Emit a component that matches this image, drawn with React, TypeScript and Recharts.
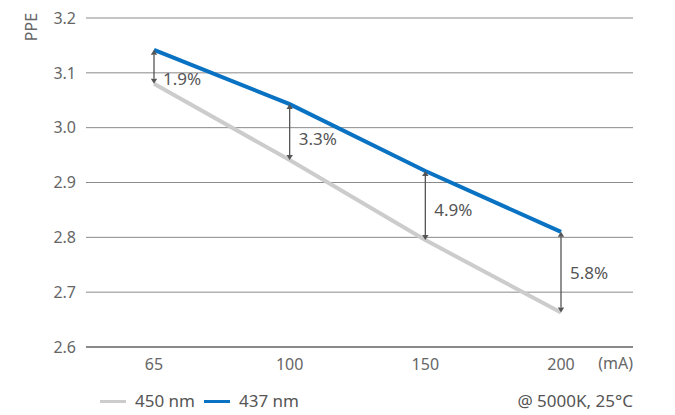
import { LineChart, Line, XAxis, YAxis, CartesianGrid, ReferenceLine } from "recharts";

const currents = ["65", "100", "150", "200"];
const ppe437 = [3.142, 3.043, 2.921, 2.81];
const ppe450 = [3.08, 2.941, 2.795, 2.663];
const gapLabels = ["1.9%", "3.3%", "4.9%", "5.8%"];
const yTicks = [2.6, 2.7, 2.8, 2.9, 3.0, 3.1, 3.2];

const data = currents.map((c, i) => ({ current: c, nm437: ppe437[i], nm450: ppe450[i] }));

const FONT = "'Noto Sans', sans-serif";
const BLUE = "#0a72c2";
const GRAY = "#cccccc";
const ARROW = "#555555";
const TEXT = "#555555";

// label nudges so the text sits clear of the lines
const labelDy = [14, 8, 6, 2];

function GapArrow(props: any, idx: number) {
  const { x1, y1, x2, y2 } = props;
  const x = x1;
  const top = Math.min(y1, y2);
  const bot = Math.max(y1, y2);
  const h = 5;
  const w = 3.2;
  return (
    <g>
      <line x1={x} y1={top + h} x2={x2} y2={bot - h} stroke={ARROW} strokeWidth={1.3} />
      <polygon points={`${x},${top} ${x - w},${top + h} ${x + w},${top + h}`} fill={ARROW} />
      <polygon points={`${x},${bot} ${x - w},${bot - h} ${x + w},${bot - h}`} fill={ARROW} />
      <text
        x={x + 9}
        y={(top + bot) / 2 + labelDy[idx]}
        fill={TEXT}
        fontSize={17}
        fontFamily={FONT}
        dominantBaseline="middle"
      >
        {gapLabels[idx]}
      </text>
    </g>
  );
}

function LegendRow() {
  const item = (color: string, label: string) => (
    <span style={{ display: "flex", alignItems: "center", gap: 9, marginRight: 9 }}>
      <span style={{ display: "inline-block", width: 26, height: 3, background: color }} />
      <span>{label}</span>
    </span>
  );
  return (
    <div
      style={{
        position: "absolute",
        left: 100,
        top: 390,
        display: "flex",
        alignItems: "center",
        fontFamily: FONT,
        fontSize: 17,
        color: TEXT,
        width: 533,
        lineHeight: "22px",
      }}
    >
      {item(GRAY, "450 nm")}
      {item(BLUE, "437 nm")}
      <span style={{ marginLeft: "auto" }}>@ 5000K, 25°C</span>
    </div>
  );
}

export default function App() {
  return (
    <div style={{ position: "absolute", left: 0, top: 0, width: 675, height: 415, background: "#fff" }}>
      <LineChart width={675} height={415} data={data} margin={{ top: 18, right: 42, bottom: 38, left: 0 }}>
        <CartesianGrid vertical={false} stroke="#8a8a8a" strokeWidth={1} />
        <XAxis
          dataKey="current"
          padding={{ left: 68, right: 72 }}
          tickLine={false}
          axisLine={{ stroke: "#8a8a8a", strokeWidth: 2 }}
          tick={{ fill: "#666", fontSize: 16, fontFamily: FONT }}
          tickMargin={6}
          height={30}
          label={(p: any) => {
            const vb = p.viewBox;
            return (
              <text
                x={vb.x + vb.width}
                y={vb.y + 18}
                textAnchor="end"
                fill="#666"
                fontSize={16}
                fontFamily={FONT}
                dominantBaseline="middle"
              >
                (mA)
              </text>
            );
          }}
        />
        <YAxis
          domain={[2.6, 3.2]}
          ticks={yTicks}
          tickFormatter={(v: number) => v.toFixed(1)}
          tickLine={false}
          axisLine={false}
          tick={{ fill: "#666", fontSize: 16, fontFamily: FONT }}
          tickMargin={4}
          width={86}
          label={() => (
            <text
              x={33}
              y={27}
              transform="rotate(-90 33 27)"
              textAnchor="middle"
              fill="#666"
              fontSize={16}
              fontFamily={FONT}
              dominantBaseline="middle"
            >
              PPE
            </text>
          )}
        />
        <Line
          dataKey="nm450"
          stroke={GRAY}
          strokeWidth={4}
          dot={false}
          activeDot={false}
          type="linear"
          isAnimationActive={false}
        />
        <Line
          dataKey="nm437"
          stroke={BLUE}
          strokeWidth={4}
          dot={false}
          activeDot={false}
          type="linear"
          isAnimationActive={false}
        />
        {currents.map((c, i) => (
          <ReferenceLine
            key={c}
            segment={[
              { x: c, y: ppe437[i] },
              { x: c, y: ppe450[i] },
            ]}
            ifOverflow="visible"
            shape={(p: any) => GapArrow(p, i)}
          />
        ))}
      </LineChart>
      <LegendRow />
    </div>
  );
}
